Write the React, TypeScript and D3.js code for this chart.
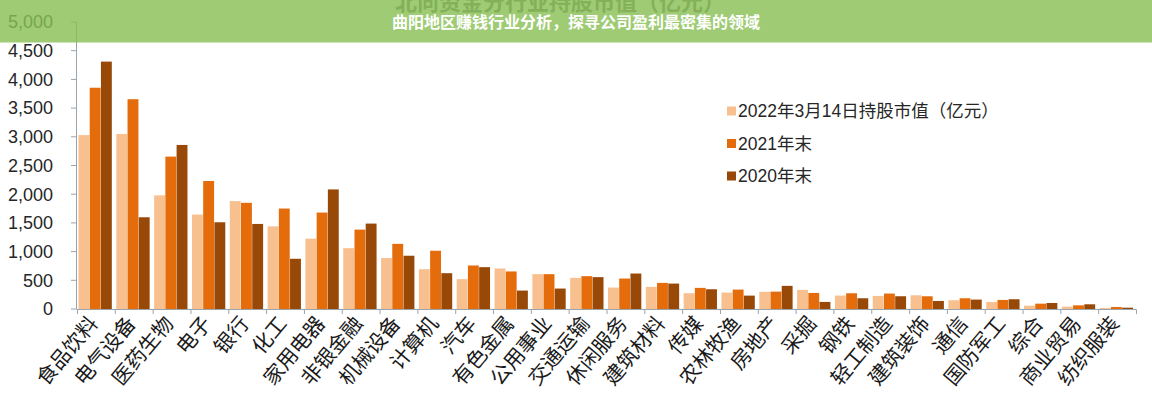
import React from "react";
import * as d3 from "d3";

const categories = ["食品饮料","电气设备","医药生物","电子","银行","化工","家用电器","非银金融","机械设备","计算机","汽车","有色金属","公用事业","交通运输","休闲服务","建筑材料","传媒","农林牧渔","房地产","采掘","钢铁","轻工制造","建筑装饰","通信","国防军工","综合","商业贸易","纺织服装"];
const series2022 = [3030,3050,1980,1645,1880,1440,1225,1060,887,694,520,706,607,543,373,385,275,286,300,333,234,228,239,152,123,58,41,18];
const series2021 = [3855,3655,2655,2230,1850,1750,1680,1383,1135,1015,758,654,607,572,531,455,368,338,303,280,274,269,222,187,158,93,64,35];
const series2020 = [4310,1598,2858,1511,1482,875,2083,1488,928,624,729,321,356,555,618,443,344,233,403,123,187,222,140,164,170,105,82,23];
const seriesNames = ["2022年3月14日持股市值（亿元）","2021年末","2020年末"];
const seriesColors = ["#F9C08F","#E46C0A","#984807"];
const yTicks = [0,500,1000,1500,2000,2500,3000,3500,4000,4500,5000];
const chartTitle = "北向资金分行业持股市值（亿元）";
const bannerTitle = "曲阳地区赚钱行业分析，探寻公司盈利最密集的领域";

const W = 1152, H = 400;
const FONT = "'Liberation Sans', Arial, 'Noto Sans CJK SC', sans-serif";

export default function App() {
  const x = d3.scaleBand<string>().domain(categories).range([77, 1136]).padding(0);
  const xi = d3.scaleBand<number>().domain([0, 1, 2]).range([1.5, x.bandwidth() - 3]).paddingInner(0.03);
  const y = d3.scaleLinear().domain([0, 5000]).range([309, 22]);
  const all = [series2022, series2021, series2020];
  const axisColor = "#9ba3ad";
  const boundaries = categories.map((c) => x(c) as number).concat([1136]);

  return (
    <svg width={W} height={H} style={{ position: "absolute", left: 0, top: 0, background: "#fff" }} fontFamily={FONT}>
      <rect x={0} y={0} width={W} height={H} fill="#fff" />
      {/* underlying chart title */}
      <text x={560} y={10} textAnchor="middle" fontSize={22} fontWeight="bold" fill="#6a6a6a">{chartTitle}</text>
      {/* y axis */}
      <line x1={76.5} x2={76.5} y1={y(5000)} y2={y(0)} stroke={axisColor} strokeWidth={1} />
      {yTicks.map((t) => (
        <g key={t}>
          <line x1={71} x2={76.5} y1={y(t)} y2={y(t)} stroke={axisColor} />
          <text x={53} y={y(t)} dy="0.35em" textAnchor="end" fontSize={18} fill="#262626">{d3.format(",")(t)}</text>
        </g>
      ))}
      {/* bars */}
      {all.map((s, si) => (
        <g key={si} fill={seriesColors[si]}>
          {categories.map((c, ci) => (
            <rect key={c} x={(x(c) as number) + (xi(si) as number)} width={xi.bandwidth()} y={y(s[ci])} height={y(0) - y(s[ci])} />
          ))}
        </g>
      ))}
      {/* x axis */}
      <line x1={76.5} x2={1136.5} y1={309.5} y2={309.5} stroke={axisColor} />
      {boundaries.map((b, i) => (
        <line key={i} x1={b + 0.5} x2={b + 0.5} y1={309.5} y2={314} stroke={axisColor} />
      ))}
      {categories.map((c) => {
        const cx = (x(c) as number) + x.bandwidth() / 2;
        return (
          <text key={c} transform={`translate(${cx + 3},${324}) rotate(-50)`} textAnchor="end" fontSize={20.5} fill="#1a1a1a">{c}</text>
        );
      })}
      {/* legend */}
      {seriesNames.map((n, i) => (
        <g key={n} transform={`translate(727,${111 + i * 32.5})`}>
          <rect x={0} y={-4.5} width={9} height={9} fill={seriesColors[i]} />
          <text x={11} y={0} dy="0.35em" fontSize={17.5} fill="#262626">{n}</text>
        </g>
      ))}
      {/* banner overlay */}
      <rect x={0} y={0} width={W} height={42.5} fill="rgb(137,192,86)" opacity={0.82} />
      <text x={576} y={22} dy="0.35em" textAnchor="middle" fontSize={16} fontWeight="bold" fill="#fff" fontFamily="'Noto Sans CJK SC', sans-serif">{bannerTitle}</text>
    </svg>
  );
}
